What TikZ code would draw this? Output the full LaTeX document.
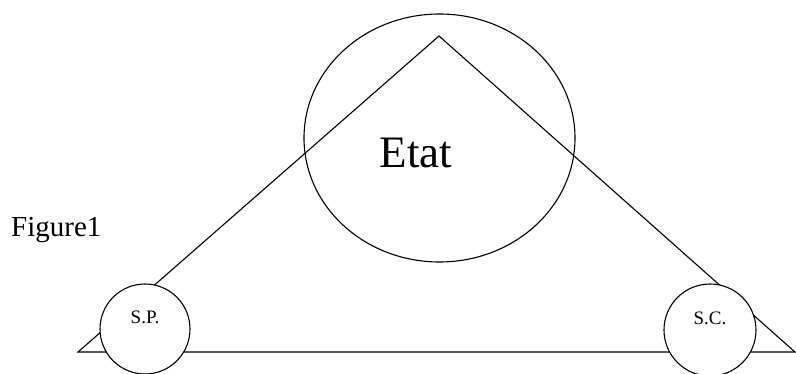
\documentclass[tikz,border=0pt]{standalone}
\usepackage{fontspec}
\setmainfont{Liberation Serif}
\usetikzlibrary{shapes.geometric}
\begin{document}
\begin{tikzpicture}[x=1pt,y=-1pt,
  stroke/.style={line width=1.1pt,draw=black},
  smallcirc/.style={circle,stroke,fill=white,inner sep=0pt,minimum size=90pt},
  bigell/.style={ellipse,stroke,inner sep=0pt,minimum width=271pt,minimum height=248pt},
  lbl/.style={inner sep=0pt,anchor=base}]
\useasboundingbox (0,0) rectangle (796,374);
\clip (0,0) rectangle (796,374);
\coordinate (A) at (439,36);
\coordinate (L) at (78,352);
\coordinate (R) at (795,352);
\draw[stroke,line join=miter] (L) -- (A) -- (R) -- cycle;
\node[bigell] (etat) at (439.5,138) {};
\node[lbl,font=\fontsize{45}{45}\selectfont] (etattxt) at (416,168) {Etat};
\node[smallcirc] (sp) at (145,329) {};
\node[smallcirc,minimum size=92pt] (sc) at (710,330) {};
\node[lbl,font=\fontsize{19}{19}\selectfont] (sptxt) at (145,324) {S.P.};
\node[lbl,font=\fontsize{19}{19}\selectfont] (sctxt) at (710,325) {S.C.};
\node[lbl,anchor=base west,font=\fontsize{29}{29}\selectfont] (fig) at (11,237) {Figure1};
\end{tikzpicture}
\end{document}
